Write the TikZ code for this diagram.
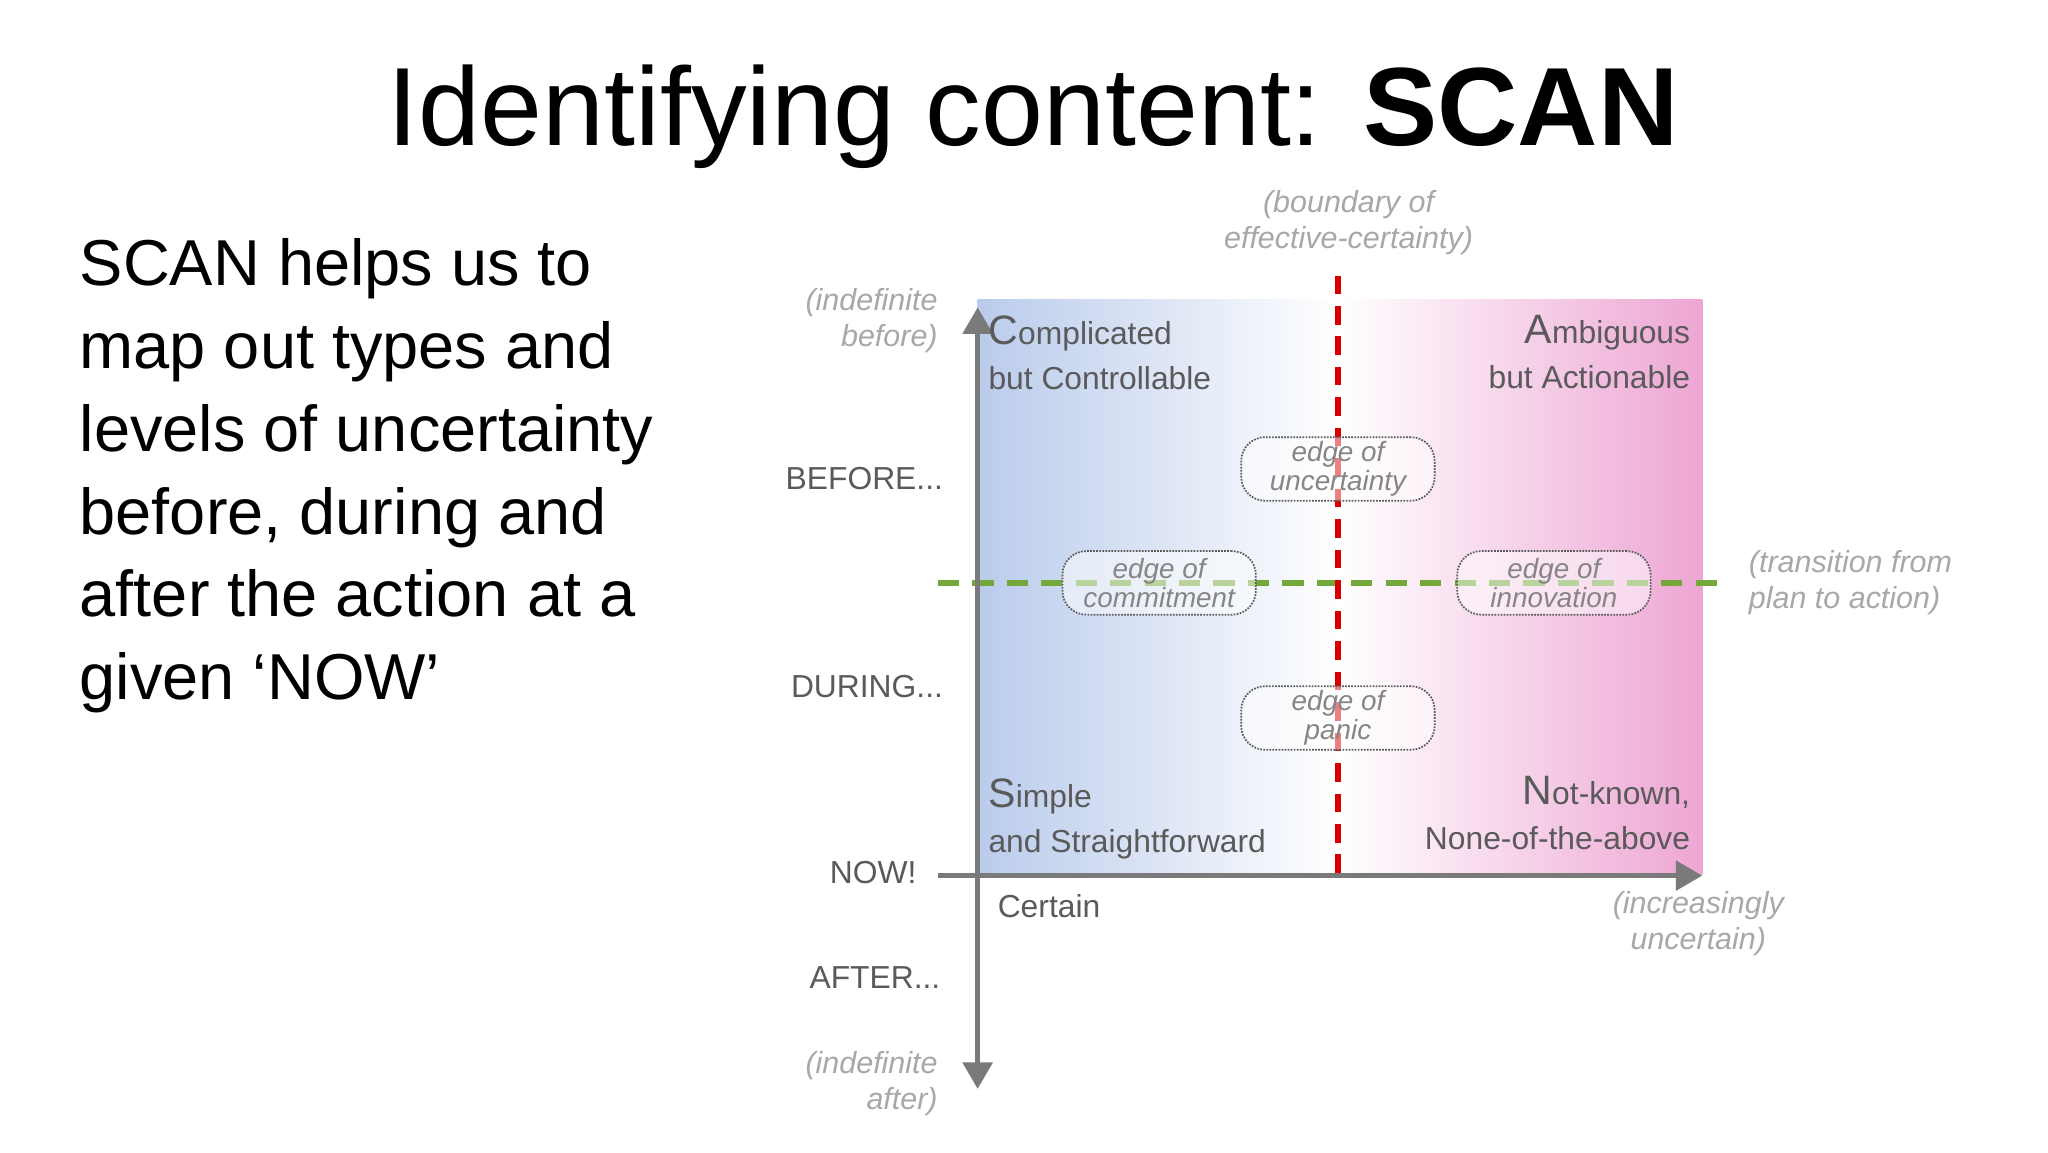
\documentclass[tikz,border=0pt]{standalone}
\usepackage{fontspec}
\setmainfont{Liberation Sans}
\usetikzlibrary{arrows.meta}
\definecolor{qblue}{HTML}{BACBEB}
\definecolor{qpink}{HTML}{EDA6D3}
\definecolor{axg}{HTML}{7A7A7A}
\definecolor{txg}{HTML}{5A5A5A}
\definecolor{itg}{HTML}{A8A8A8}
\definecolor{grn}{HTML}{74A83A}
\tikzset{
 lab/.style={text=txg,font=\fontsize{24}{28}\selectfont,inner sep=0pt},
 ital/.style={text=itg,font=\fontsize{23}{27}\selectfont\itshape,inner sep=0pt,align=center},
 edgebox/.style={draw=txg,densely dotted,line width=1.3pt,rounded corners=18pt,minimum width=146pt,minimum height=48pt,text=itg!80!black,font=\fontsize{21}{22}\selectfont\itshape,align=center,inner sep=0pt,fill=white,fill opacity=0.5,text opacity=1},
 axis/.style={draw=axg,line width=4pt,-{Triangle[length=20pt,width=22pt]}},
}
\begin{document}
\begin{tikzpicture}[x=1pt,y=-1pt]
\useasboundingbox (0,0) rectangle (1546,870);
\fill[white] (0,0) rectangle (1546,870);
\shade[left color=qblue,right color=white] (738,226) rectangle (1010,660);
\shade[left color=white,right color=qpink] (1010,226) rectangle (1285,660);
\node[font=\fontsize{84}{94}\selectfont,anchor=base] (title) at (780,110) {Identifying content: \textbf{SCAN}};
\node[anchor=north west,align=left,font=\fontsize{49}{62.5}\selectfont,inner sep=0pt] (body) at (60,180)
{SCAN helps us to\\map out types and\\levels of uncertainty\\before, during and\\after the action at a\\given ‘NOW’};
\coordinate (gl) at (708,440); \coordinate (gr) at (1305,440);
\draw[draw=grn,line width=4.5pt,dash pattern=on 16pt off 10pt] (gl) -- (gr);
\coordinate (rt) at (1010,208); \coordinate (rb) at (1010,660);
\draw[draw=red!85!black,line width=4.5pt,dash pattern=on 14pt off 9pt] (rt) -- (rb);
\coordinate (vb) at (738,822); \coordinate (vt) at (738,232);
\draw[axis,{Triangle[length=20pt,width=22pt]}-{Triangle[length=20pt,width=22pt]}] (vb) -- (vt);
\coordinate (hl) at (708,661); \coordinate (hr) at (1285,661);
\draw[axis] (hl) -- (hr);
\node[edgebox] (eu) at (1010,354) {edge of\\uncertainty};
\node[edgebox] (ec) at (875,440) {edge of\\commitment};
\node[edgebox] (ei) at (1173,440) {edge of\\innovation};
\node[edgebox] (ep) at (1010,542) {edge of\\panic};
\node[lab,anchor=north west,align=left] (cc) at (746,238) {{\fontsize{31}{31}\selectfont C}omplicated\\[6pt]but Controllable};
\node[lab,anchor=north east,align=right] (aa) at (1276,238) {{\fontsize{31}{31}\selectfont A}mbiguous\\[6pt]but Actionable};
\node[lab,anchor=north west,align=left] (ss) at (746,588) {{\fontsize{31}{31}\selectfont S}imple\\[6pt]and Straightforward};
\node[lab,anchor=north east,align=right] (nn) at (1276,586) {{\fontsize{31}{31}\selectfont N}ot-known,\\[6pt]None-of-the-above};
\node[lab,anchor=east] (bef) at (712,361) {BEFORE...};
\node[lab,anchor=east] (dur) at (712,518) {DURING...};
\node[lab,anchor=east] (now) at (692,659) {NOW!};
\node[lab,anchor=east] (aft) at (710,738) {AFTER...};
\node[lab,anchor=west] (cer) at (753,684) {Certain};
\node[ital,align=right,anchor=east] (ib) at (708,242) {(indefinite\\before)};
\node[ital,align=right,anchor=east] (ia) at (708,818) {(indefinite\\after)};
\node[ital] (bc) at (1018,168) {(boundary of\\effective-certainty)};
\node[ital,align=left,anchor=west] (tp) at (1320,440) {(transition from\\plan to action)};
\node[ital] (iu) at (1282,697) {(increasingly\\uncertain)};
\end{tikzpicture}
\end{document}
